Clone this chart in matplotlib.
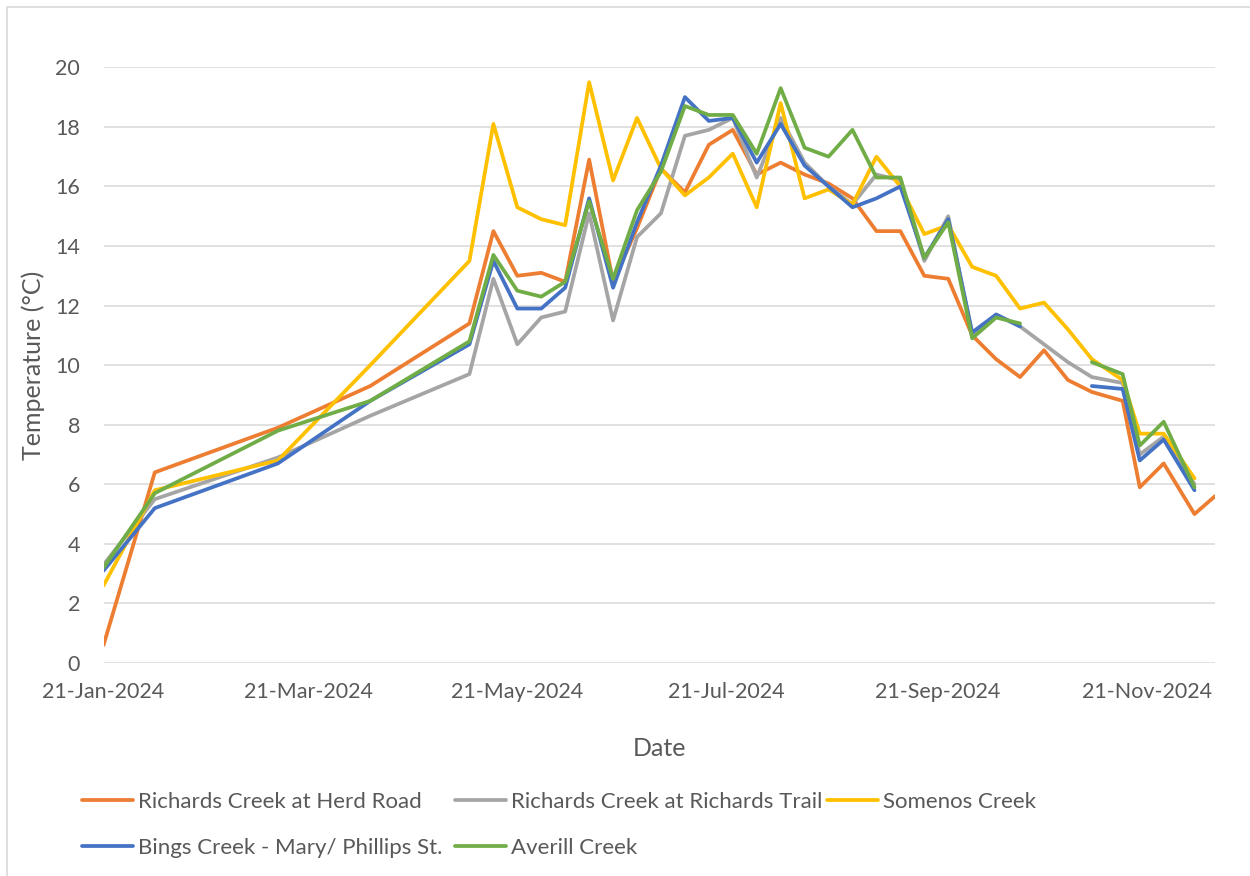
import matplotlib
matplotlib.use("Agg")
import matplotlib.pyplot as plt
import matplotlib.dates as mdates
import numpy as np
import pandas as pd

plt.rcParams['font.family'] = ['Lato', 'DejaVu Sans']

# sampling dates
dates = pd.to_datetime([
    '2024-01-21', '2024-02-05', '2024-03-12', '2024-04-08', '2024-05-07', '2024-05-14',
    '2024-05-21', '2024-05-28', '2024-06-04', '2024-06-11', '2024-06-18', '2024-06-25',
    '2024-07-02', '2024-07-09', '2024-07-16', '2024-07-23', '2024-07-30', '2024-08-06',
    '2024-08-13', '2024-08-20', '2024-08-27', '2024-09-03', '2024-09-10', '2024-09-17',
    '2024-09-24', '2024-10-01', '2024-10-08', '2024-10-15', '2024-10-22', '2024-10-29',
    '2024-11-05', '2024-11-14', '2024-11-19', '2024-11-26', '2024-12-05', '2024-12-11'])

nan = np.nan
herd_road = [0.6, 6.4, 7.9, 9.3, 11.4, 14.5, 13.0, 13.1, 12.8, 16.9, 12.8, 14.6,
             16.6, 15.8, 17.4, 17.9, 16.4, 16.8, 16.4, 16.1, 15.6, 14.5, 14.5, 13.0,
             12.9, 11.0, 10.2, 9.6, 10.5, 9.5, 9.1, 8.8, 5.9, 6.7, 5.0, 5.6]
richards_trail = [3.3, 5.5, 6.9, 8.3, 9.7, 12.9, 10.7, 11.6, 11.8, 15.1, 11.5, 14.3,
                  15.1, 17.7, 17.9, 18.3, 16.3, 18.3, 16.8, 16.0, 15.4, 16.4, 16.2, 13.5,
                  15.0, 11.0, 11.7, 11.3, 10.7, 10.1, 9.6, 9.4, 7.0, 7.6, 6.0, nan]
somenos = [2.6, 5.8, 6.8, 10.0, 13.5, 18.1, 15.3, 14.9, 14.7, 19.5, 16.2, 18.3,
           16.6, 15.7, 16.3, 17.1, 15.3, 18.8, 15.6, 15.9, 15.4, 17.0, 16.0, 14.4,
           14.7, 13.3, 13.0, 11.9, 12.1, 11.2, 10.2, 9.5, 7.7, 7.7, 6.2, nan]
bings = [3.1, 5.2, 6.7, 8.8, 10.7, 13.5, 11.9, 11.9, 12.6, 15.6, 12.6, 14.8,
         16.7, 19.0, 18.2, 18.3, 16.8, 18.1, 16.7, 16.0, 15.3, 15.6, 16.0, 13.6,
         14.9, 11.1, 11.7, 11.3, nan, nan, 9.3, 9.2, 6.8, 7.5, 5.8, nan]
averill = [3.2, 5.7, 7.8, 8.8, 10.8, 13.7, 12.5, 12.3, 12.8, 15.5, 12.9, 15.2,
           16.5, 18.7, 18.4, 18.4, 17.1, 19.3, 17.3, 17.0, 17.9, 16.3, 16.3, 13.6,
           14.8, 10.9, 11.6, 11.4, nan, nan, 10.1, 9.7, 7.3, 8.1, 5.9, nan]

labels = ['Richards Creek at Herd Road', 'Richards Creek at Richards Trail', 'Somenos Creek',
          'Bings Creek - Mary/ Phillips St.', 'Averill Creek']
colors = ['#ED7D31', '#A5A5A5', '#FFC000', '#4472C4', '#70AD47']
series = [herd_road, richards_trail, somenos, bings, averill]

txt = '#595959'
W, H = 1250, 876
fig = plt.figure(figsize=(12.5, 8.76), dpi=100)
ax = fig.add_axes([103.5 / W, 1 - 663 / H, (1215 - 103.5) / W, (663 - 67.3) / H])

lines = []
for vals, lab, c in zip(series, labels, colors):
    ln, = ax.plot(dates, vals, color=c, lw=2.7, label=lab,
                  solid_joinstyle='round', solid_capstyle='round')
    lines.append(ln)

ax.set_ylim(0, 20)
ax.set_yticks(range(0, 21, 2))
ax.set_xlim(dates[0], dates[-1])
ticks = pd.date_range('2024-01-21', periods=6, freq=pd.DateOffset(months=2))
ax.set_xticks(ticks)
ax.xaxis.set_major_formatter(mdates.DateFormatter('%d-%b-%Y'))

ax.grid(axis='y', color='#D9D9D9', lw=1.1)
ax.set_axisbelow(True)
for s in ax.spines.values():
    s.set_visible(False)
ax.tick_params(axis='both', length=0, labelsize=15.5, labelcolor=txt)
ax.tick_params(axis='x', pad=14)
ax.tick_params(axis='y', pad=17)

ax.set_xlabel('Date', fontsize=18, color=txt)
ax.xaxis.set_label_coords(0.5, (663 - 748) / (663 - 67.3))
ax.xaxis.label.set_va('center')
ax.set_ylabel('Temperature (°C)', fontsize=18, color=txt)
ax.yaxis.set_label_coords((33 - 103.5) / (1215 - 103.5), 0.5)
ax.yaxis.label.set_va('center')

# legend laid out as Excel does: three equal-width columns
legend_cols = [[0, 3], [1, 4], [2]]
col_x = [82, 455, 827]
for idx, x0 in zip(legend_cols, col_x):
    fig.legend([lines[i] for i in idx], [labels[i] for i in idx], ncol=1,
               loc='upper left', bbox_to_anchor=(x0 / W, 1 - 792 / H), frameon=False,
               fontsize=16, labelcolor=txt, handlelength=2.3, handletextpad=0.2,
               labelspacing=1.15, borderpad=0, borderaxespad=0)

# chart frame
fig.patches.append(plt.Rectangle((7 / W, -0.05), 1.2, 1 - 7 / H + 0.05,
                                 transform=fig.transFigure, fill=False,
                                 edgecolor='#D9D9D9', lw=1.2))

fig.savefig('out.png', dpi=100)
